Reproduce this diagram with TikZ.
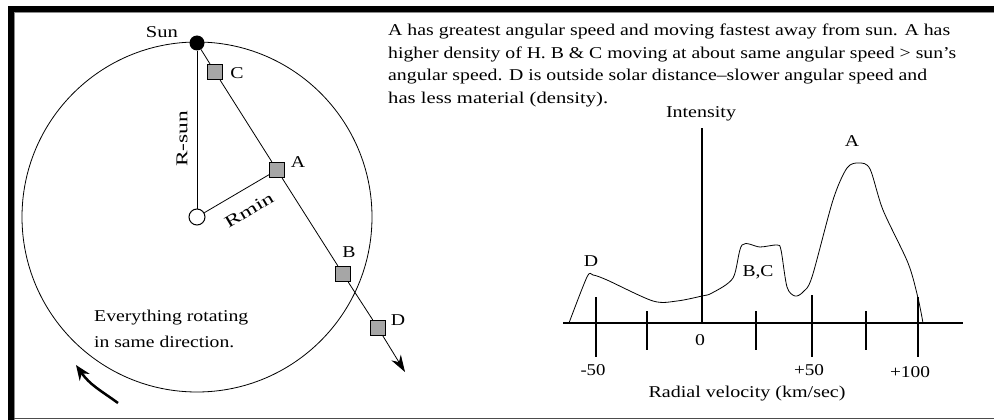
\documentclass[tikz,border=0pt]{standalone}
\usepackage{fontspec}
\setmainfont{Liberation Serif}[FakeStretch=1.2]
\usetikzlibrary{arrows.meta}
\newcommand{\fitw}[2]{\resizebox{#1pt}{\height}{#2}}
\begin{document}
\begin{tikzpicture}[x=1pt,y=-1pt,
  every node/.style={font=\fontsize{16.5}{18}\selectfont, inner sep=0pt},
  obj/.style={draw=black, line width=1.2pt, fill=black!35, minimum size=15pt, inner sep=0pt},
  thin line/.style={line width=0.8pt},
  axis/.style={line width=1.2pt},
  tickmark/.style={line width=1.2pt}]
\useasboundingbox (0,0) rectangle (994,420);
% frame
\fill[black] (8,6) rectangle (994,12);
\fill[black] (8,6) rectangle (14,420);
\draw[black!45, line width=1pt] (14.5,420) -- (14.5,12.5) -- (994,12.5);
\draw[black!70, line width=1.5pt] (14,418.5) -- (994,418.5);
% orbit
\coordinate (ctrpt) at (197,217);
\draw[thin line] (ctrpt) circle[radius=175pt];
\node[circle, fill=black, minimum size=15pt] (sun) at (197,43) {};
\node[circle, draw, line width=1pt, fill=white, minimum size=16pt] (ctr) at (197,217) {};
\node[obj] (C) at (215,72) {};
\node[obj] (A) at (277,170) {};
\node[obj] (B) at (343,274) {};
\node[obj] (D) at (378,328) {};
\coordinate (tip) at (405,372);
\draw[thin line] (sun) -- (C);
\draw[thin line] (C) -- (A);
\draw[thin line] (A) -- (B);
\draw[thin line] (B) -- (D);
\draw[thin line, -{Stealth[length=17pt,width=11pt]}] (D) -- (tip);
\draw[line width=1pt] (sun) -- (ctr);
\draw[thin line] (ctr) -- (A);
\node (sunlbl) at (162,32) {\fitw{32}{Sun}};
\node (Clbl) at (237,73) {C};
\node (Albl) at (298,162) {A};
\node (Blbl) at (349,252) {B};
\node (Dlbl) at (398,320) {D};
\node[rotate=90] (rsun) at (182,139) {\fitw{56}{R-sun}};
\node[rotate=31] (rmin) at (249,210) {\fitw{54}{Rmin}};
\node[anchor=west] (ev1) at (94,318) {\fitw{154}{Everything rotating}};
\node[anchor=west] (ev2) at (94,342) {\fitw{140}{in same direction.}};
\coordinate (rs) at (118,403);
\coordinate (re) at (76,365);
\draw[line width=2.5pt, -{Stealth[length=15pt,width=12pt]}] (rs) .. controls (100,390) and (90,385) .. (re);
% text
\node[anchor=west] (t1) at (388,31) {\fitw{562}{A has greatest angular speed and moving fastest away from sun. A has}};
\node[anchor=west] (t2) at (388,54) {\fitw{568}{higher density of H. B \& C moving at about same angular speed > sun's}};
\node[anchor=west] (t3) at (388,77) {\fitw{539}{angular speed. D is outside solar distance--slower angular speed and}};
\node[anchor=west] (t4) at (388,100) {\fitw{220}{has less material (density).}};
% chart
\coordinate (o) at (702,323);
\coordinate (ytop) at (702,128);
\coordinate (xl) at (563,323);
\coordinate (xr) at (963,323);
\draw[axis] (o) -- (ytop);
\draw[axis] (xl) -- (xr);
\draw[tickmark] (596,297) -- (596,357);
\draw[tickmark] (647,311) -- (647,350);
\draw[tickmark] (756,311) -- (756,350);
\draw[tickmark] (812,295) -- (812,357);
\draw[tickmark] (866,311) -- (866,350);
\draw[tickmark] (918,297) -- (918,357);
\node (int) at (701,114) {\fitw{70}{Intensity}};
\node (m50) at (593,370) {\fitw{25}{-50}};
\node (z0) at (700,340) {0};
\node (p50) at (809,370) {\fitw{30}{+50}};
\node (p100) at (910,372) {\fitw{40}{+100}};
\node (rv) at (747,394) {\fitw{197}{Radial velocity (km/sec)}};
\node (cD) at (591,261) {D};
\node (cBC) at (758,272) {\fitw{31}{B,C}};
\node (cA) at (852,141) {A};
\draw[thin line] plot[smooth, tension=0.5] coordinates {(569,323) (587,277) (593,275) (607,280) (653,301) (677,301) (702,296) (712,293) (733,278) (742,245) (760,247) (777,245) (781,250) (787,287) (795,296) (803,292) (812,277) (833,200) (847,168) (859,163) (870,169) (883,210) (908,263) (918,298) (923,323)};
\end{tikzpicture}
\end{document}
